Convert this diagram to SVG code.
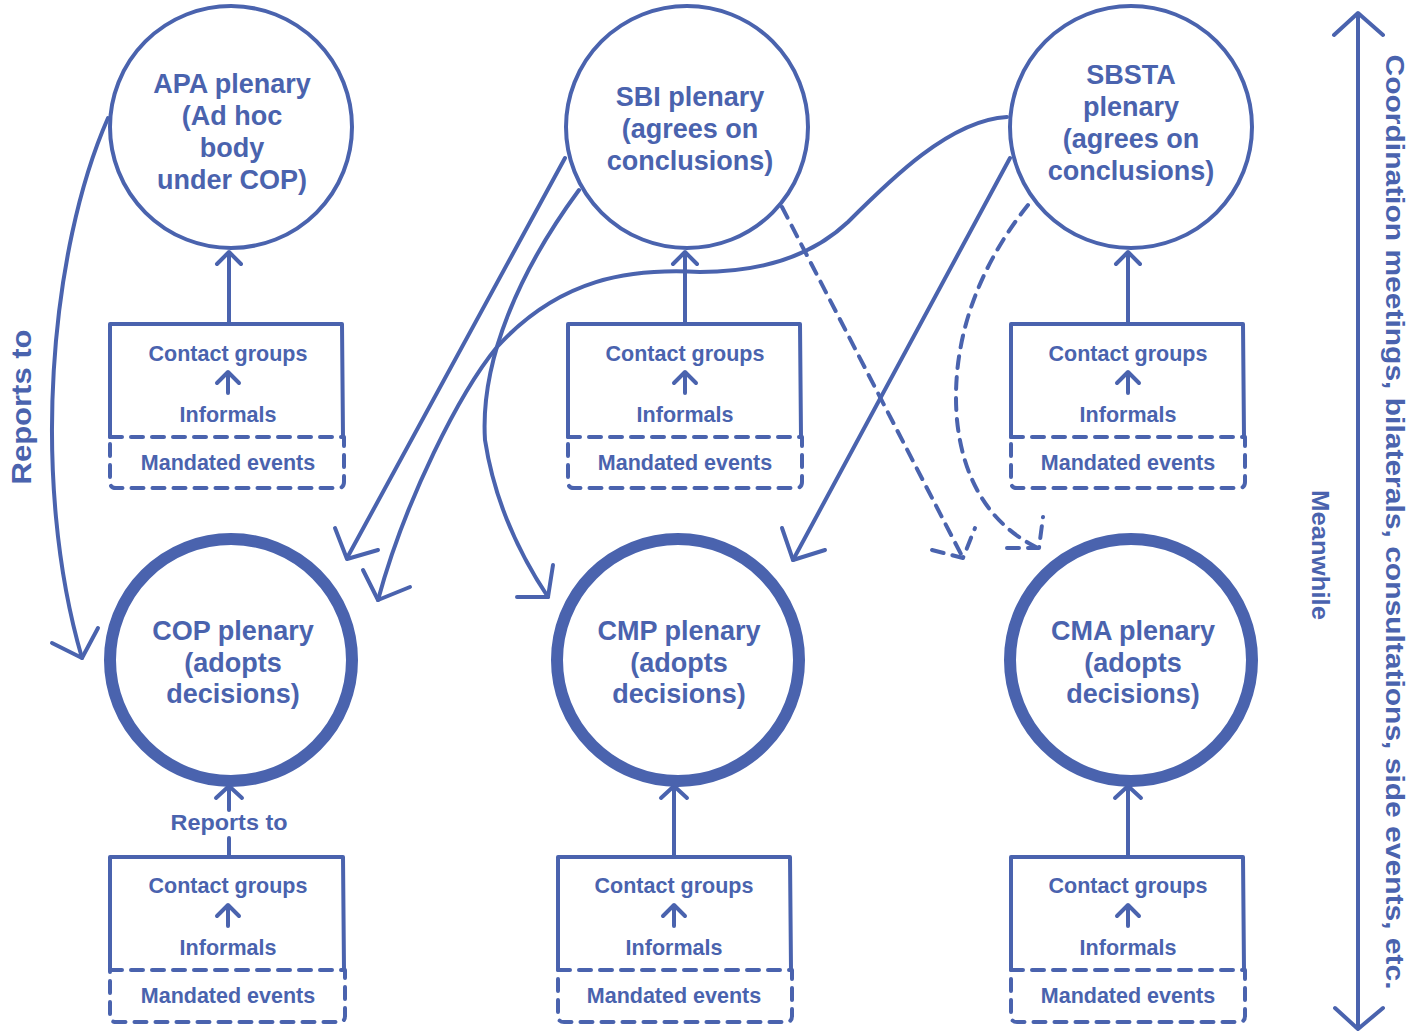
<svg xmlns="http://www.w3.org/2000/svg" width="1423" height="1032" viewBox="0 0 1423 1032">
<style>
  .ln{fill:none;stroke:#4a63ae;stroke-width:4;stroke-linecap:round;stroke-linejoin:round}
  .dash{stroke-dasharray:12 9}
  .thin{fill:#fff;stroke:#4a63ae;stroke-width:4}
  .thick{fill:#fff;stroke:#4a63ae;stroke-width:12}
  text{font-family:"Liberation Sans",Arial,sans-serif;font-weight:bold;fill:#4a63ae;text-anchor:middle}
  .ct{font-size:27px}
  .bt{font-size:21.5px}
</style>
<rect width="1423" height="1032" fill="#fff"/>

<g id="connectors">
  <!-- APA -> COP -->
  <path class="ln" d="M108,118 C50,250 30,480 82,658"/>
  <path class="ln" d="M52,643 L82,658 L98,628"/>
  <!-- SBI -> COP straight -->
  <path class="ln" d="M565,158 L347,558"/>
  <path class="ln" d="M335,528 L347,559 L378,550"/>
  <!-- SBSTA -> COP curve -->
  <path class="ln" d="M1007,117 C950,120 890,180 848,222 C810,258 760,272 700,272 C630,268 560,278 497,347 C460,392 405,500 378,600"/>
  <path class="ln" d="M363,570 L378,600 L410,587"/>
  <!-- SBI -> CMP curve -->
  <path class="ln" d="M579,190 C520,270 480,360 485,440 C495,505 520,555 548,597"/>
  <path class="ln" d="M553,565 L548,597 L517,597"/>
  <!-- SBSTA -> CMP straight -->
  <path class="ln" d="M1010,158 L793,560"/>
  <path class="ln" d="M782,528 L793,560 L825,550"/>
  <!-- SBI -> CMA dashed -->
  <path class="ln dash" d="M782,207 L963,558"/>
  <path class="ln dash" d="M932,550 L963,558 L975,528"/>
  <!-- SBSTA -> CMA dashed curve -->
  <path class="ln dash" d="M1028,205 C980,265 950,340 957,420 C963,480 990,525 1038,548"/>
  <path class="ln dash" d="M1007,548 L1039,548 L1043,517"/>
  <!-- box -> circle connectors top row -->
  <path class="ln" d="M229,323 L229,252 M217,264 L229,252 L241,264"/>
  <path class="ln" d="M685,323 L685,252 M673,264 L685,252 L697,264"/>
  <path class="ln" d="M1128,323 L1128,252 M1116,264 L1128,252 L1140,264"/>
  <!-- bottom row -->
  <path class="ln" d="M229,857 L229,838 M229,810 L229,787 M216,798 L229,786 L242,798"/>
  <path class="ln" d="M674,857 L674,787 M661,798 L674,786 L687,798"/>
  <path class="ln" d="M1128,857 L1128,787 M1115,798 L1128,786 L1141,798"/>
  <!-- right double arrow -->
  <path class="ln" d="M1358,14 L1358,1028 M1334,35 L1358,13 L1383,35 M1335,1008 L1358,1029 L1383,1008"/>
  <text font-size="27" transform="translate(31,407) rotate(-90)" textLength="155" lengthAdjust="spacingAndGlyphs">Reports to</text>
  <text font-size="22" x="229" y="830" textLength="117" lengthAdjust="spacingAndGlyphs">Reports to</text>
</g>

<g id="apa">
  <circle class="thin" cx="231" cy="127" r="121"/>
  <text class="ct" x="232" y="93">APA plenary</text>
  <text class="ct" x="232" y="125">(Ad hoc</text>
  <text class="ct" x="232" y="157">body</text>
  <text class="ct" x="232" y="189">under COP)</text>
</g>
<g id="sbi">
  <circle class="thin" cx="687" cy="127" r="121"/>
  <text class="ct" x="690" y="106">SBI plenary</text>
  <text class="ct" x="690" y="138">(agrees on</text>
  <text class="ct" x="690" y="170">conclusions)</text>
</g>
<g id="sbsta">
  <circle class="thin" cx="1131" cy="127" r="121"/>
  <text class="ct" x="1131" y="84">SBSTA</text>
  <text class="ct" x="1131" y="116">plenary</text>
  <text class="ct" x="1131" y="148">(agrees on</text>
  <text class="ct" x="1131" y="180">conclusions)</text>
</g>

<g id="cop">
  <circle class="thick" cx="231" cy="660" r="121"/>
  <text class="ct" font-size="28" x="233" y="640">COP plenary</text>
  <text class="ct" font-size="28" x="233" y="672">(adopts</text>
  <text class="ct" font-size="28" x="233" y="703">decisions)</text>
</g>
<g id="cmp">
  <circle class="thick" cx="678" cy="660" r="121"/>
  <text class="ct" font-size="28" x="679" y="640">CMP plenary</text>
  <text class="ct" font-size="28" x="679" y="672">(adopts</text>
  <text class="ct" font-size="28" x="679" y="703">decisions)</text>
</g>
<g id="cma">
  <circle class="thick" cx="1131" cy="660" r="121"/>
  <text class="ct" font-size="28" x="1133" y="640">CMA plenary</text>
  <text class="ct" font-size="28" x="1133" y="672">(adopts</text>
  <text class="ct" font-size="28" x="1133" y="703">decisions)</text>
</g>

<g id="box-apa">
  <path class="ln" d="M110,437 L110,324 L342,324 L343,437"/>
  <path class="ln dash" d="M110,437 L344,437 L344,482 Q344,488 338,488 L116,488 Q110,488 110,482 Z"/>
  <text class="bt" x="228" y="361">Contact groups</text>
  <path class="ln" d="M228,393 L228,373 M217,383 L228,372 L239,383"/>
  <text class="bt" x="228" y="422">Informals</text>
  <text class="bt" x="228" y="470">Mandated events</text>
</g>
<g id="box-sbi">
  <path class="ln" d="M568,437 L568,324 L800,324 L801,437"/>
  <path class="ln dash" d="M568,437 L802,437 L802,482 Q802,488 796,488 L574,488 Q568,488 568,482 Z"/>
  <text class="bt" x="685" y="361">Contact groups</text>
  <path class="ln" d="M685,393 L685,373 M674,383 L685,372 L696,383"/>
  <text class="bt" x="685" y="422">Informals</text>
  <text class="bt" x="685" y="470">Mandated events</text>
</g>
<g id="box-sbsta">
  <path class="ln" d="M1011,437 L1011,324 L1243,324 L1244,437"/>
  <path class="ln dash" d="M1011,437 L1245,437 L1245,482 Q1245,488 1239,488 L1017,488 Q1011,488 1011,482 Z"/>
  <text class="bt" x="1128" y="361">Contact groups</text>
  <path class="ln" d="M1128,393 L1128,373 M1117,383 L1128,372 L1139,383"/>
  <text class="bt" x="1128" y="422">Informals</text>
  <text class="bt" x="1128" y="470">Mandated events</text>
</g>

<g id="box-cop">
  <path class="ln" d="M110,970 L110,857 L343,857 L344,970"/>
  <path class="ln dash" d="M110,970 L345,970 L345,1016 Q345,1022 339,1022 L116,1022 Q110,1022 110,1016 Z"/>
  <text class="bt" x="228" y="893">Contact groups</text>
  <path class="ln" d="M228,926 L228,906 M217,916 L228,905 L239,916"/>
  <text class="bt" x="228" y="955">Informals</text>
  <text class="bt" x="228" y="1003">Mandated events</text>
</g>
<g id="box-cmp">
  <path class="ln" d="M558,970 L558,857 L790,857 L791,970"/>
  <path class="ln dash" d="M558,970 L792,970 L792,1016 Q792,1022 786,1022 L564,1022 Q558,1022 558,1016 Z"/>
  <text class="bt" x="674" y="893">Contact groups</text>
  <path class="ln" d="M674,926 L674,906 M663,916 L674,905 L685,916"/>
  <text class="bt" x="674" y="955">Informals</text>
  <text class="bt" x="674" y="1003">Mandated events</text>
</g>
<g id="box-cma">
  <path class="ln" d="M1011,970 L1011,857 L1243,857 L1244,970"/>
  <path class="ln dash" d="M1011,970 L1245,970 L1245,1016 Q1245,1022 1239,1022 L1017,1022 Q1011,1022 1011,1016 Z"/>
  <text class="bt" x="1128" y="893">Contact groups</text>
  <path class="ln" d="M1128,926 L1128,906 M1117,916 L1128,905 L1139,916"/>
  <text class="bt" x="1128" y="955">Informals</text>
  <text class="bt" x="1128" y="1003">Mandated events</text>
</g>

<g id="meanwhile">
  <text font-size="26" transform="translate(1386,522) rotate(90)" textLength="935" lengthAdjust="spacingAndGlyphs">Coordination meetings, bilaterals, consultations, side events, etc.</text>
  <text font-size="24" transform="translate(1312,555) rotate(90)" textLength="130" lengthAdjust="spacingAndGlyphs">Meanwhile</text>
</g>
</svg>
